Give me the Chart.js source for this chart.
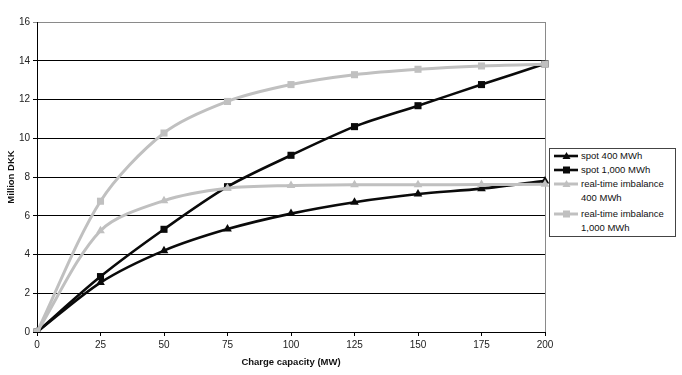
<!DOCTYPE html>
<html><head><meta charset="utf-8">
<script src="https://cdn.jsdelivr.net/npm/chart.js@4/dist/chart.umd.min.js"></script>
<style>
html,body{margin:0;padding:0;background:#fff;}
#wrap{position:relative;width:682px;height:375px;}
#legend{position:absolute;left:549px;top:148px;width:127px;border:1px solid #444;background:#fff;font:9.5px "Liberation Sans",Arial,sans-serif;color:#111;box-sizing:border-box;padding:0 0 1px 0}
.item{display:flex;align-items:flex-start;}
.sample{width:31px;flex:0 0 31px;height:14px;}
.txt{line-height:14px;}
.gap{margin-top:2px}
</style>
</head><body>
<div id="wrap"><canvas id="c" width="682" height="375"></canvas><div id="legend"></div></div>
<script>
const categories = [0, 25, 50, 75, 100, 125, 150, 175, 200];
const spot400 = [0, 2.55, 4.2, 5.31, 6.11, 6.7, 7.12, 7.4, 7.8];
const spot1000 = [0, 2.86, 5.3, 7.5, 9.12, 10.6, 11.68, 12.77, 13.84];
const rt400 = [0, 5.23, 6.78, 7.42, 7.56, 7.6, 7.6, 7.61, 7.62];
const rt1000 = [0, 6.75, 10.27, 11.9, 12.77, 13.28, 13.56, 13.73, 13.82];
const seriesNames = ["spot 400 MWh", "spot 1,000 MWh", "real-time imbalance\n400 MWh", "real-time imbalance\n1,000 MWh"];
const yTicks = [0, 2, 4, 6, 8, 10, 12, 14, 16];

const BLACK = '#0a0a0a', GRAY = '#c0c0c0';
const styles = [
  {color: BLACK, marker: 'triangle', w: 2.6, r: 5, order: 3},
  {color: BLACK, marker: 'rect', w: 2.6, r: 5, order: 2},
  {color: GRAY, marker: 'triangle', w: 3, r: 5, order: 1},
  {color: GRAY, marker: 'rect', w: 3, r: 5, order: 0},
];
const values = [spot400, spot1000, rt400, rt1000];

const rightBorder = {
  id: 'rightBorder',
  beforeDatasetsDraw(chart) {
    const a = chart.chartArea, ctx = chart.ctx;
    ctx.save();
    ctx.strokeStyle = '#8a8a8a'; ctx.lineWidth = 1;
    ctx.beginPath(); ctx.moveTo(Math.round(a.right) + 0.5, a.top); ctx.lineTo(Math.round(a.right) + 0.5, a.bottom); ctx.stroke();
    ctx.restore();
  }
};

const font = {family: '"Liberation Sans", Arial, sans-serif', size: 10};
const chart = new Chart(document.getElementById('c'), {
  type: 'line',
  data: {
    labels: categories,
    datasets: values.map((v, i) => ({
      label: seriesNames[i].replace('\n', ' '),
      data: v,
      borderColor: styles[i].color,
      backgroundColor: styles[i].color,
      borderWidth: styles[i].w,
      pointStyle: styles[i].marker,
      pointRadius: styles[i].r,
      pointBorderWidth: 0,
      pointBackgroundColor: styles[i].color,
      tension: 0.3,
      order: styles[i].order,
      fill: false
    }))
  },
  options: {
    responsive: false,
    animation: false,
    layout: {padding: {left: 0, right: 137, top: 22, bottom: 0}},
    plugins: {legend: {display: false}, tooltip: {enabled: false}},
    scales: {
      x: {
        offset: false,
        grid: {display: true, drawOnChartArea: false, drawTicks: true, tickLength: 4, color: '#000'},
        border: {display: true, color: '#000', width: 1},
        ticks: {color: '#222', font: font, padding: 3, maxRotation: 0},
        title: {display: true, text: 'Charge capacity (MW)', color: '#111', font: {family: font.family, size: 9.5, weight: 'bold'}, padding: {top: 0, bottom: 7}},
        afterFit(s) { s.height = 43; }
      },
      y: {
        min: 0, max: 16,
        afterBuildTicks(s) { s.ticks = yTicks.map(v => ({value: v})); },
        grid: {color: ctx => ctx.tick && ctx.tick.value === 16 ? '#8a8a8a' : '#000', lineWidth: 1, tickLength: 4, drawTicks: true},
        border: {display: true, color: '#000', width: 1},
        ticks: {color: '#222', font: font, padding: 3},
        title: {display: true, text: 'Million DKK', color: '#111', font: {family: font.family, size: 9.5, weight: 'bold'}, padding: {top: 6, bottom: 0}},
        afterFit(s) { s.width = 37; }
      }
    }
  },
  plugins: [rightBorder]
});

// HTML legend built from dataset styles
const leg = document.getElementById('legend');
seriesNames.forEach((name, i) => {
  const st = styles[i];
  const item = document.createElement('div');
  item.className = 'item' + (i === 3 ? ' gap' : '');
  let mk;
  if (st.marker === 'rect') mk = `<rect x="13" y="3.5" width="7" height="7" fill="${st.color}"/>`;
  else mk = `<polygon points="16.5,3 20.5,10 12.5,10" fill="${st.color}"/>`;
  item.innerHTML = `<svg class="sample" width="31" height="14" viewBox="0 0 31 14"><line x1="4" y1="7" x2="28" y2="7" stroke="${st.color}" stroke-width="${st.w}"/>${mk}</svg><div class="txt">${name.replace('\n', '<br>')}</div>`;
  leg.appendChild(item);
});
</script>
</body></html>
